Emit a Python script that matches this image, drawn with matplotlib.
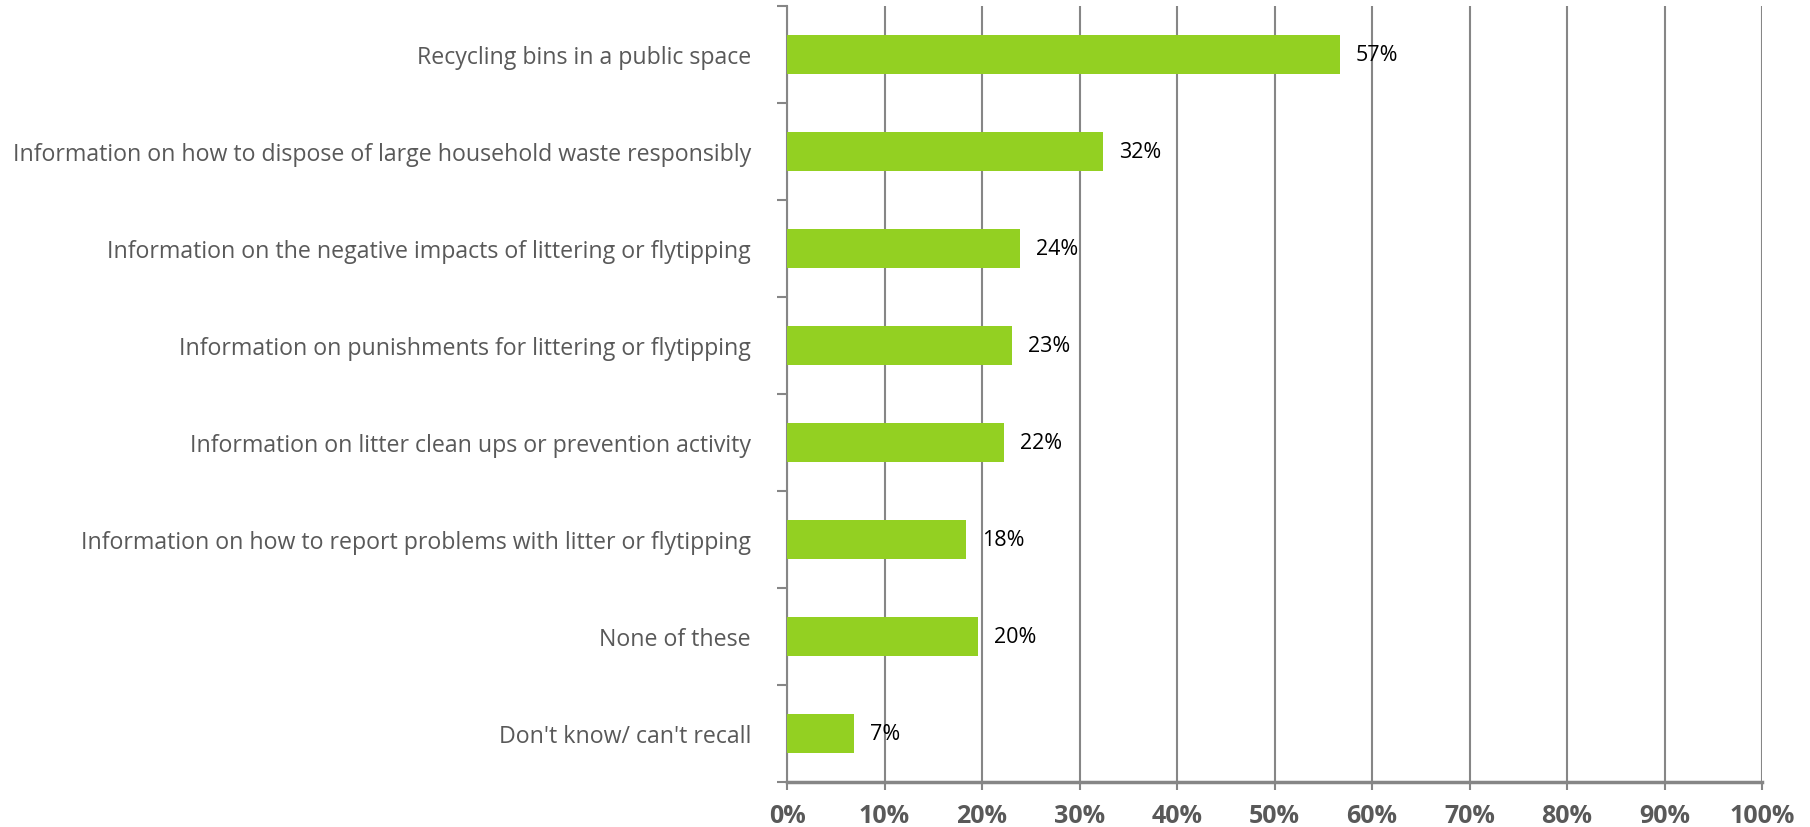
import matplotlib
matplotlib.use("Agg")
import matplotlib.pyplot as plt
from matplotlib.ticker import FixedLocator

categories = [
    "Recycling bins in a public space",
    "Information on how to dispose of large household waste responsibly",
    "Information on the negative impacts of littering or flytipping",
    "Information on punishments for littering or flytipping",
    "Information on litter clean ups or prevention activity",
    "Information on how to report problems with litter or flytipping",
    "None of these",
    "Don't know/ can't recall",
]
values = [56.7, 32.4, 23.9, 23.1, 22.3, 18.4, 19.6, 6.9]
x_ticks = [0, 10, 20, 30, 40, 50, 60, 70, 80, 90, 100]
x_tick_labels = [f"{t}%" for t in x_ticks]

W, H, DPI = 1810, 828, 100
fig = plt.figure(figsize=(W / DPI, H / DPI), dpi=DPI)
ax = fig.add_axes([787 / W, 1 - 783 / H, (1762 - 787) / W, (783 - 7) / H])

grey = "#868686"
bar_color = "#93D022"
n = len(categories)
ypos = list(range(n))
ax.barh(ypos, values, height=0.4, color=bar_color, zorder=3)
ax.set_ylim(n - 0.5, -0.5)
ax.set_xlim(0, 100)

for y, v in zip(ypos, values):
    ax.annotate(f"{v:.0f}%", xy=(v, y), xytext=(16, 0), textcoords="offset pixels",
                va="center", ha="left", fontsize=15.5, color="black", family="Open Sans", zorder=4)

ax.set_xticks(x_ticks)
ax.set_xticklabels(x_tick_labels, fontsize=18, fontweight="bold", color="#595959", family="Open Sans")
ax.xaxis.grid(True, color=grey, linewidth=1.5, zorder=0)
ax.tick_params(axis="x", length=6, width=1.5, color=grey, pad=9)

ax.set_yticks(ypos)
ax.set_yticklabels(categories, fontsize=16.7, color="#595959", family="Open Sans")
ax.yaxis.set_minor_locator(FixedLocator([i - 0.5 for i in range(n + 1)]))
ax.tick_params(axis="y", which="major", length=0, pad=26)
ax.tick_params(axis="y", which="minor", length=7, width=1.5, color=grey)

for s in ["top", "right"]:
    ax.spines[s].set_visible(False)
ax.spines["left"].set_color(grey)
ax.spines["left"].set_linewidth(1.5)
ax.spines["bottom"].set_color(grey)
ax.spines["bottom"].set_linewidth(2.5)

fig.savefig("out.png", dpi=DPI)
